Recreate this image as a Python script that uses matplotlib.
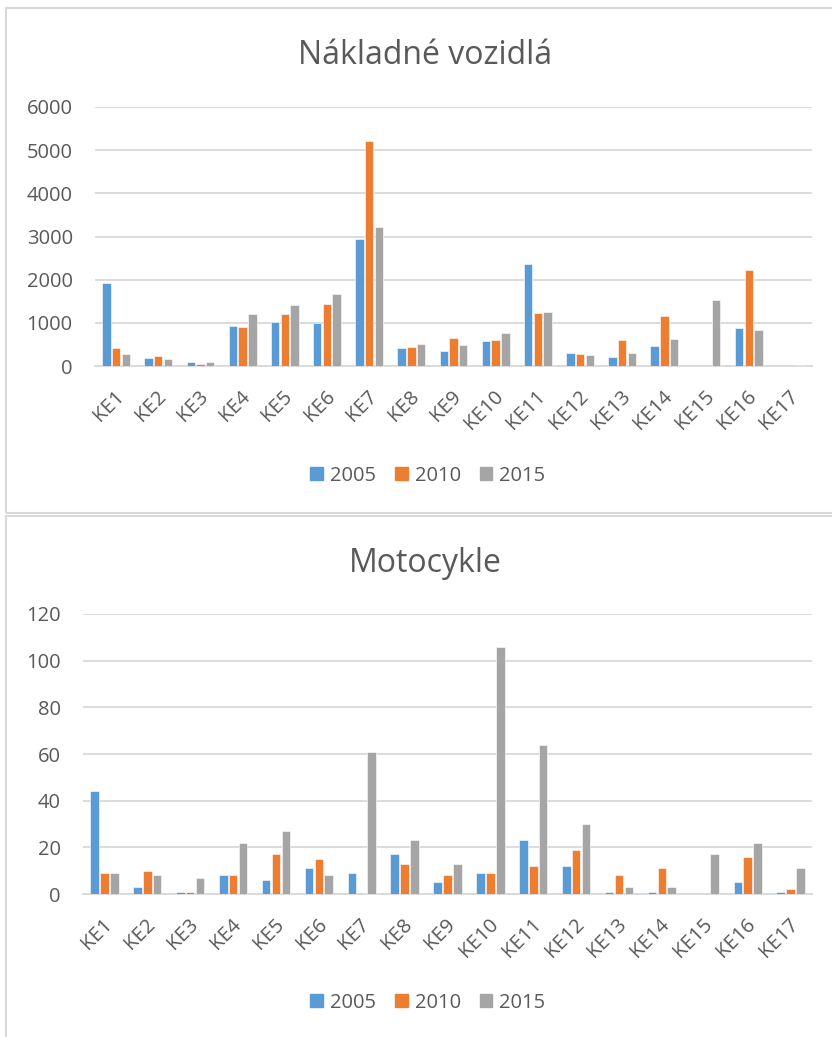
import matplotlib
matplotlib.use("Agg")
import matplotlib.pyplot as plt
import matplotlib.patches as mpatches
from matplotlib.transforms import ScaledTranslation
import numpy as np

categories = ["KE1", "KE2", "KE3", "KE4", "KE5", "KE6", "KE7", "KE8", "KE9",
              "KE10", "KE11", "KE12", "KE13", "KE14", "KE15", "KE16", "KE17"]
years = ["2005", "2010", "2015"]

trucks_2005 = [1930, 195, 85, 930, 1020, 1005, 2935, 410, 355, 580, 2365, 300, 200, 455, 0, 890, 0]
trucks_2010 = [410, 235, 55, 910, 1195, 1435, 5205, 430, 650, 595, 1230, 270, 595, 1165, 0, 2225, 10]
trucks_2015 = [280, 160, 100, 1200, 1405, 1675, 3210, 515, 485, 755, 1260, 265, 295, 635, 1520, 825, 15]

moto_2005 = [44, 3, 1, 8, 6, 11, 9, 17, 5, 9, 23, 12, 1, 1, 0, 5, 1]
moto_2010 = [9, 10, 1, 8, 17, 15, 0, 13, 8, 9, 12, 19, 8, 11, 0, 16, 2]
moto_2015 = [9, 8, 7, 22, 27, 8, 61, 23, 13, 106, 64, 30, 3, 3, 17, 22, 11]

trucks_ticks = [0, 1000, 2000, 3000, 4000, 5000, 6000]
moto_ticks = [0, 20, 40, 60, 80, 100, 120]

colors = ["#5B9BD5", "#ED7D31", "#A5A5A5"]
text_color = "#595959"
grid_color = "#D9D9D9"

plt.rcParams['font.family'] = ['Open Sans', 'DejaVu Sans']

W, H = 832, 1037
fig = plt.figure(figsize=(W / 100, H / 100), dpi=100)


def fx(px):
    return px / W


def fy(py):
    return 1 - py / H


# panel borders
for (top, bottom) in [(8, 513), (516, 1045)]:
    rect = mpatches.Rectangle((fx(6), fy(bottom)), fx(840) - fx(6), fy(top) - fy(bottom),
                              transform=fig.transFigure, fill=False,
                              edgecolor=grid_color, linewidth=1.5, clip_on=False)
    fig.patches.append(rect)


def draw(ax_rect, series, ticks, title, title_y, legend_y):
    ax = fig.add_axes(ax_rect)
    x = np.arange(len(categories))
    pitch = 0.23
    width = 0.20
    for i, (vals, c) in enumerate(zip(series, colors)):
        ax.bar(x + (i - 1) * pitch, vals, width=width, color=c,
               edgecolor="white", linewidth=0.4, label=years[i], zorder=3)
    ax.set_xlim(-0.5, len(categories) - 0.5)
    ax.set_ylim(ticks[0], ticks[-1])
    ax.set_yticks(ticks)
    ax.set_yticklabels([str(t) for t in ticks])
    ax.yaxis.grid(True, color=grid_color, linewidth=1.3, zorder=0)
    ax.set_axisbelow(True)
    for s in ["top", "right", "left"]:
        ax.spines[s].set_visible(False)
    ax.spines["bottom"].set_color(grid_color)
    ax.spines["bottom"].set_linewidth(1.3)
    ax.tick_params(axis="y", length=0, pad=16, labelsize=14.5, labelcolor=text_color)
    ax.tick_params(axis="x", length=0, pad=20, labelsize=14.5, labelcolor=text_color)
    ax.set_xticks(x)
    ax.set_xticklabels(categories, rotation=45, ha="right", va="center",
                       rotation_mode="anchor")
    offset = ScaledTranslation(5 / 100, 0, fig.dpi_scale_trans)
    for lbl in ax.get_xticklabels():
        lbl.set_transform(lbl.get_transform() + offset)
    fig.text(fx(425), fy(title_y), title, ha="center", va="center",
             fontsize=23, color=text_color)
    handles = [mpatches.Patch(color=c) for c in colors]
    fig.legend(handles, years, loc="center", bbox_to_anchor=(fx(428), fy(legend_y)),
               ncol=3, frameon=False, fontsize=14.5, labelcolor=text_color,
               handlelength=0.62, handleheight=0.62, handletextpad=0.35,
               columnspacing=0.95)
    return ax


draw([fx(95), fy(366), fx(812) - fx(95), fy(107) - fy(366)],
     [trucks_2005, trucks_2010, trucks_2015], trucks_ticks,
     "Nákladné vozidlá", 55, 476)

draw([fx(83), fy(894), fx(812) - fx(83), fy(614) - fy(894)],
     [moto_2005, moto_2010, moto_2015], moto_ticks,
     "Motocykle", 563, 1003)

fig.savefig("out.png", dpi=100, facecolor="white")
